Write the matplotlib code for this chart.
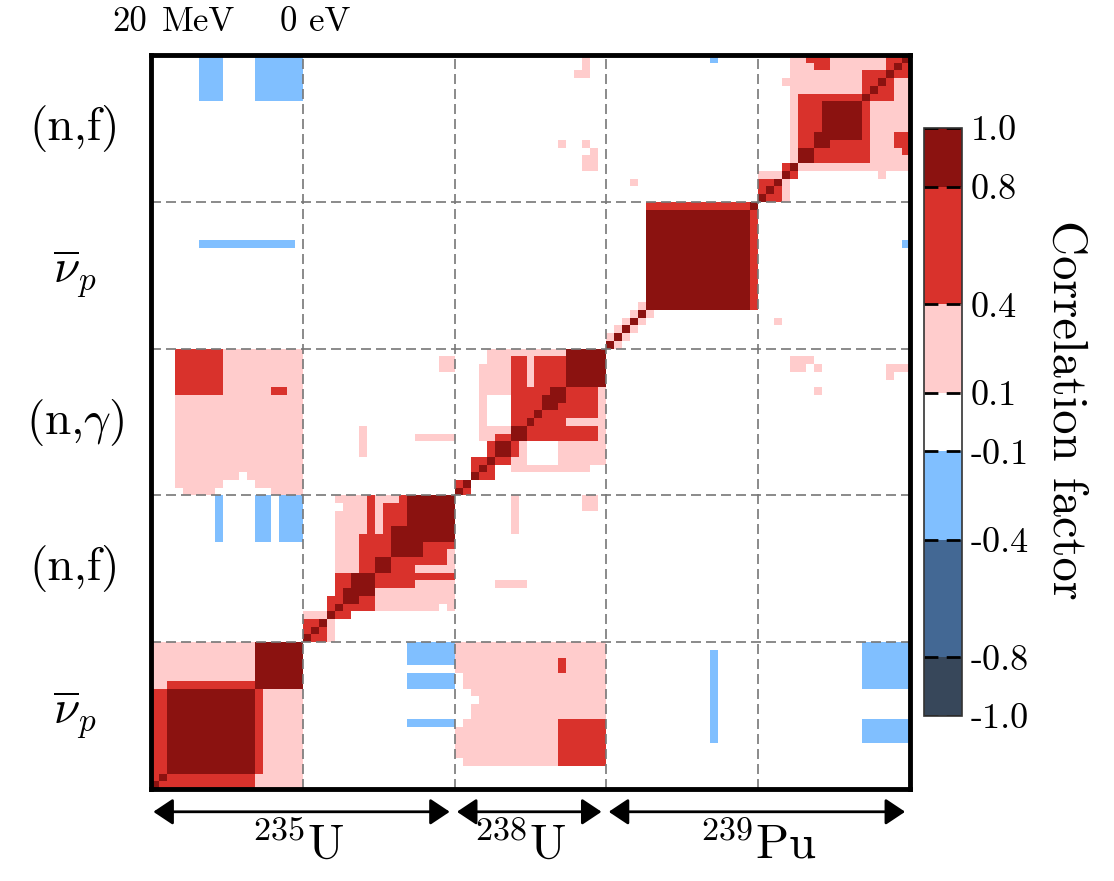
import numpy as np
import matplotlib.pyplot as plt
from matplotlib.colors import ListedColormap, BoundaryNorm

plt.rcParams['font.family'] = 'serif'
plt.rcParams['font.serif'] = ['cmr10', 'DejaVu Serif']
plt.rcParams['mathtext.fontset'] = 'cm'
plt.rcParams['axes.unicode_minus'] = False
plt.rcParams['axes.formatter.use_mathtext'] = True

ng = 19  # energy groups per block
nb = 5   # blocks: 235U nubar, 235U (n,f), 238U (n,g), 239Pu nubar, 239Pu (n,f)

# correlation levels
DK, RD, PK, BL, WH = 0.9, 0.6, 0.25, -0.25, 0.0

# (r0, r1, c0, c1, value): r counted from the bottom of the block, inclusive.
# each patch is mirrored, the matrix is symmetric
u5nu_u5nu = [(14, 18, 0, 12, PK), (13, 13, 0, 1, PK), (0, 12, 0, 1, RD),
             (13, 13, 2, 12, RD), (2, 12, 2, 12, DK), (13, 18, 13, 18, DK)]
u5f_u5nu = [(13, 18, 8, 8, BL), (13, 18, 13, 14, BL), (13, 18, 16, 18, BL)]
u8g_u5nu = [(0, 18, 3, 18, PK), (0, 0, 3, 3, WH), (0, 0, 8, 14, WH), (1, 1, 9, 12, WH),
            (2, 2, 11, 11, WH), (13, 18, 3, 8, RD), (13, 13, 15, 16, RD)]
pu9nu_u5nu = [(13, 13, 6, 17, BL)]
pu9f_u5nu = [(13, 18, 6, 8, BL), (13, 18, 13, 18, BL)]

u5f_u5f = [(4, 18, 4, 18, PK), (3, 3, 0, 2, PK), (17, 17, 4, 4, WH), (0, 2, 0, 2, RD),
           (4, 5, 3, 3, RD), (4, 8, 4, 7, RD), (8, 18, 8, 8, RD), (9, 13, 7, 7, RD),
           (9, 18, 10, 12, RD), (14, 18, 9, 9, PK), (12, 13, 9, 9, RD), (18, 18, 9, 11, PK),
           (13, 18, 13, 18, DK), (11, 14, 11, 13, DK), (9, 10, 9, 10, DK),
           (7, 8, 6, 7, DK), (5, 6, 5, 5, DK), (4, 4, 4, 4, DK)]
u8g_u5f = [(16, 17, 17, 18, PK), (5, 8, 7, 7, PK), (7, 7, 14, 18, PK)]

u8g_u8g = [(4, 18, 4, 18, PK), (3, 3, 7, 16, PK), (9, 12, 4, 6, WH), (0, 1, 0, 1, RD),
           (2, 4, 2, 4, RD), (5, 6, 4, 7, RD), (9, 17, 7, 8, RD), (13, 17, 10, 11, RD),
           (9, 13, 9, 13, RD), (12, 17, 12, 13, RD), (14, 18, 14, 18, DK),
           (12, 13, 12, 13, DK), (11, 12, 11, 11, DK), (7, 8, 7, 8, DK), (5, 6, 5, 6, DK)]

pu9nu_pu9nu = [(1, 1, 0, 0, PK), (2, 2, 1, 1, PK), (3, 3, 2, 2, PK), (4, 4, 3, 3, PK),
               (5, 5, 4, 4, PK), (5, 17, 5, 17, DK), (18, 18, 5, 17, RD)]
pu9f_u8g = [(17, 18, 16, 16, PK), (16, 16, 15, 16, PK), (7, 7, 13, 13, PK),
            (7, 7, 16, 16, PK), (6, 6, 17, 17, PK), (4, 5, 16, 17, PK)]
pu9f_pu9nu = [(18, 18, 13, 13, BL), (2, 2, 3, 3, PK)]

pu9f_pu9f = [(4, 18, 4, 18, PK), (3, 3, 0, 2, PK), (15, 15, 3, 3, PK), (0, 2, 0, 2, RD),
             (3, 4, 4, 4, RD), (5, 13, 5, 13, RD), (17, 18, 7, 8, RD), (18, 18, 6, 6, RD),
             (13, 16, 13, 16, RD), (16, 18, 16, 18, RD), (9, 12, 8, 11, DK),
             (7, 8, 7, 8, DK), (5, 6, 5, 6, DK), (15, 15, 17, 18, PK)]

pairs = [(0, 0, u5nu_u5nu), (1, 0, u5f_u5nu), (2, 0, u8g_u5nu), (3, 0, pu9nu_u5nu),
         (4, 0, pu9f_u5nu), (1, 1, u5f_u5f), (2, 1, u8g_u5f), (2, 2, u8g_u8g),
         (3, 3, pu9nu_pu9nu), (4, 2, pu9f_u8g), (4, 3, pu9f_pu9nu), (4, 4, pu9f_pu9f)]

N = ng * nb
M = np.zeros((N, N))
for bi, bj, rects in pairs:
    for r0, r1, c0, c1, v in rects:
        i0, i1 = bi * ng + r0, bi * ng + r1 + 1
        j0, j1 = bj * ng + c0, bj * ng + c1 + 1
        M[i0:i1, j0:j1] = v
        M[j0:j1, i0:i1] = v
np.fill_diagonal(M, 1.0)

bounds = [-1.0, -0.8, -0.4, -0.1, 0.1, 0.4, 0.8, 1.0]
colors = ['#37475a', '#436894', '#80bfff', '#ffffff', '#ffcccc', '#d9322c', '#8b1210']
cmap = ListedColormap(colors)
norm = BoundaryNorm(bounds, cmap.N)

fig = plt.figure(figsize=(11.14, 8.81), dpi=100)
ax = fig.add_axes([0.1355, 0.1044, 0.6813, 0.8331])
im = ax.imshow(M, origin='lower', cmap=cmap, norm=norm, aspect='auto',
               interpolation='nearest', extent=[0, N, 0, N])
for k in range(1, nb):
    ax.axvline(ng * k, color='#777777', lw=1.2, ls=(0, (6, 3)))
    ax.axhline(ng * k, color='#777777', lw=1.2, ls=(0, (6, 3)))
ax.set_xticks([])
ax.set_yticks([])
for s in ax.spines.values():
    s.set_linewidth(3.5)

row_labels = [r'$\overline{\nu}_p$', '(n,f)', r'(n,$\gamma$)', r'$\overline{\nu}_p$', '(n,f)']
for k, lab in enumerate(row_labels):
    ax.text(-0.1, ng * k + ng / 2, lab, transform=ax.get_yaxis_transform(),
            ha='center', va='center', fontsize=34)

fig.text(130 / 1114, 1 - 22 / 881, '20', ha='center', va='center', fontsize=25)
fig.text(198 / 1114, 1 - 22 / 881, 'MeV', ha='center', va='center', fontsize=25)
fig.text(315 / 1114, 1 - 22 / 881, '0 eV', ha='center', va='center', fontsize=25)

# isotope arrows below the matrix
spans = [(0, 2 * ng, 18.3, r'$^{235}\mathrm{U}$'), (2 * ng, 3 * ng, 46.1, r'$^{238}\mathrm{U}$'),
         (3 * ng, 5 * ng, 76.0, r'$^{239}\mathrm{Pu}$')]
for a, b, xc, lab in spans:
    ax.annotate('', xy=(b - 0.6, -0.031), xytext=(a + 0.3, -0.031),
                xycoords=('data', 'axes fraction'), annotation_clip=False,
                arrowprops=dict(arrowstyle='<|-|>, head_length=0.6, head_width=0.4',
                                mutation_scale=20, lw=2, color='k', shrinkA=0, shrinkB=0))
    ax.text(xc, -0.077, lab, transform=ax.get_xaxis_transform(),
            ha='center', va='center', fontsize=35)

cax = fig.add_axes([924 / 1114, 1 - 716 / 881, 38 / 1114, 588 / 881])
cb = fig.colorbar(im, cax=cax, spacing='proportional', ticks=bounds)
cb.ax.set_yticklabels(['-1.0', '-0.8', '-0.4', '-0.1', '0.1', '0.4', '0.8', '1.0'])
cb.ax.tick_params(length=0, labelsize=26, pad=6)
cb.outline.set_linewidth(1.2)
cb.outline.set_edgecolor('#333333')
for b in bounds:
    cax.axhline(b, color='k', lw=2, ls=(0, (5, 3)))
fig.text(1065 / 1114, 1 - 410 / 881, 'Correlation factor', rotation=270,
         ha='center', va='center', fontsize=35)

fig.savefig('out.png', dpi=100)
